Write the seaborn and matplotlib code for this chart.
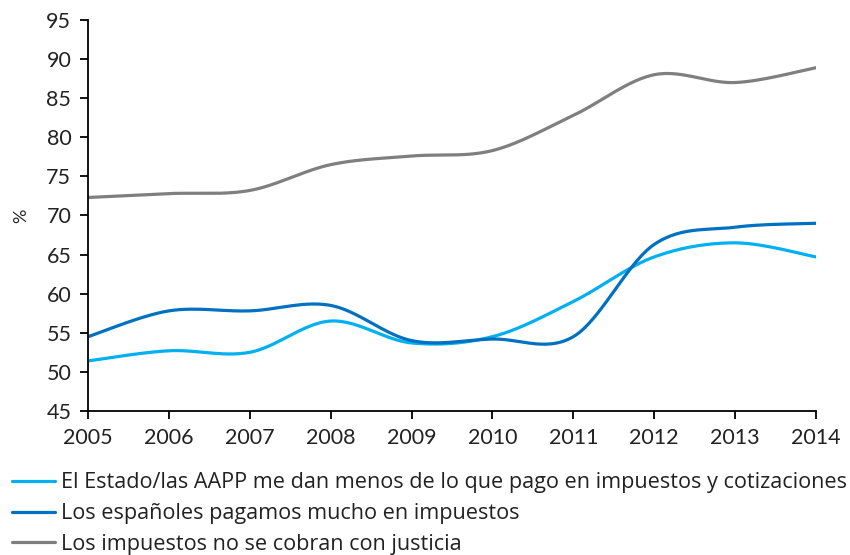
import numpy as np
import pandas as pd
import matplotlib
matplotlib.use("Agg")
import matplotlib.pyplot as plt
import seaborn as sns

years = [2005, 2006, 2007, 2008, 2009, 2010, 2011, 2012, 2013, 2014]
estado = [51.4, 52.7, 52.5, 56.5, 53.7, 54.5, 59.0, 64.7, 66.5, 64.7]
espanoles = [54.5, 57.8, 57.8, 58.5, 54.0, 54.2, 54.5, 66.3, 68.5, 69.0]
justicia = [72.3, 72.8, 73.2, 76.5, 77.6, 78.3, 82.8, 88.0, 87.0, 88.9]
labels = [
    "El Estado/las AAPP me dan menos de lo que pago en impuestos y cotizaciones",
    "Los españoles pagamos mucho en impuestos",
    "Los impuestos no se cobran con justicia",
]
colors = ["#00B0F0", "#0070C0", "#7F7F7F"]
yticks = [45, 50, 55, 60, 65, 70, 75, 80, 85, 90, 95]


def smooth(x, y, n=30):
    """Catmull-Rom style Bezier smoothing for drawing (Excel-like smoothed line)."""
    x = np.asarray(x, float)
    y = np.asarray(y, float)
    px = np.concatenate([[x[0]], x, [x[-1]]])
    py = np.concatenate([[y[0]], y, [y[-1]]])
    xs, ys = [], []
    for i in range(1, len(px) - 2):
        p0 = np.array([px[i - 1], py[i - 1]])
        p1 = np.array([px[i], py[i]])
        p2 = np.array([px[i + 1], py[i + 1]])
        p3 = np.array([px[i + 2], py[i + 2]])
        c1 = p1 + (p2 - p0) / 6.0
        c2 = p2 - (p3 - p1) / 6.0
        t = np.linspace(0, 1, n, endpoint=(i == len(px) - 3))
        b = ((1 - t) ** 3)[:, None] * p1 + (3 * (1 - t) ** 2 * t)[:, None] * c1 \
            + (3 * (1 - t) * t ** 2)[:, None] * c2 + (t ** 3)[:, None] * p2
        xs.extend(b[:, 0])
        ys.extend(b[:, 1])
    return np.array(xs), np.array(ys)


sns.set_theme(style="white")
plt.rcParams["font.family"] = ["Lato", "DejaVu Sans"]

fig = plt.figure(figsize=(8.5, 5.55), dpi=100)
ax = fig.add_axes([0.1035, 0.2595, 0.8565, 0.7045])

for vals, lab, col in zip([estado, espanoles, justicia], labels, colors):
    sx, sy = smooth(years, vals)
    df = pd.DataFrame({"year": sx, "value": sy})
    sns.lineplot(data=df, x="year", y="value", ax=ax, color=col, linewidth=2.3,
                 label=lab, sort=False, estimator=None)

ax.set_xlim(2005, 2014)
ax.set_ylim(45, 95)
ax.set_xticks(years)
ax.set_xticklabels([str(y) for y in years])
ax.set_yticks(yticks)
ax.set_xlabel("")
ax.set_ylabel("%", fontsize=13, labelpad=12)

for s in ["top", "right"]:
    ax.spines[s].set_visible(False)
for s in ["left", "bottom"]:
    ax.spines[s].set_color("#000000")
    ax.spines[s].set_linewidth(1.3)
ax.tick_params(axis="both", which="major", direction="out", length=6, width=1.3,
               color="#000000", labelsize=15.5, labelcolor="#222222", left=True, bottom=True)
ax.tick_params(axis="x", pad=6)
ax.tick_params(axis="y", pad=6)

leg = ax.legend(loc="upper left", bbox_to_anchor=(-0.104, -0.157), frameon=False,
                prop={"family": ["Open Sans", "DejaVu Sans"], "size": 15.6},
                handlelength=1.95, handletextpad=0.3, labelspacing=0.45,
                borderaxespad=0, borderpad=0)
for t in leg.get_texts():
    t.set_color("#222222")

fig.savefig("out.png", dpi=100)
